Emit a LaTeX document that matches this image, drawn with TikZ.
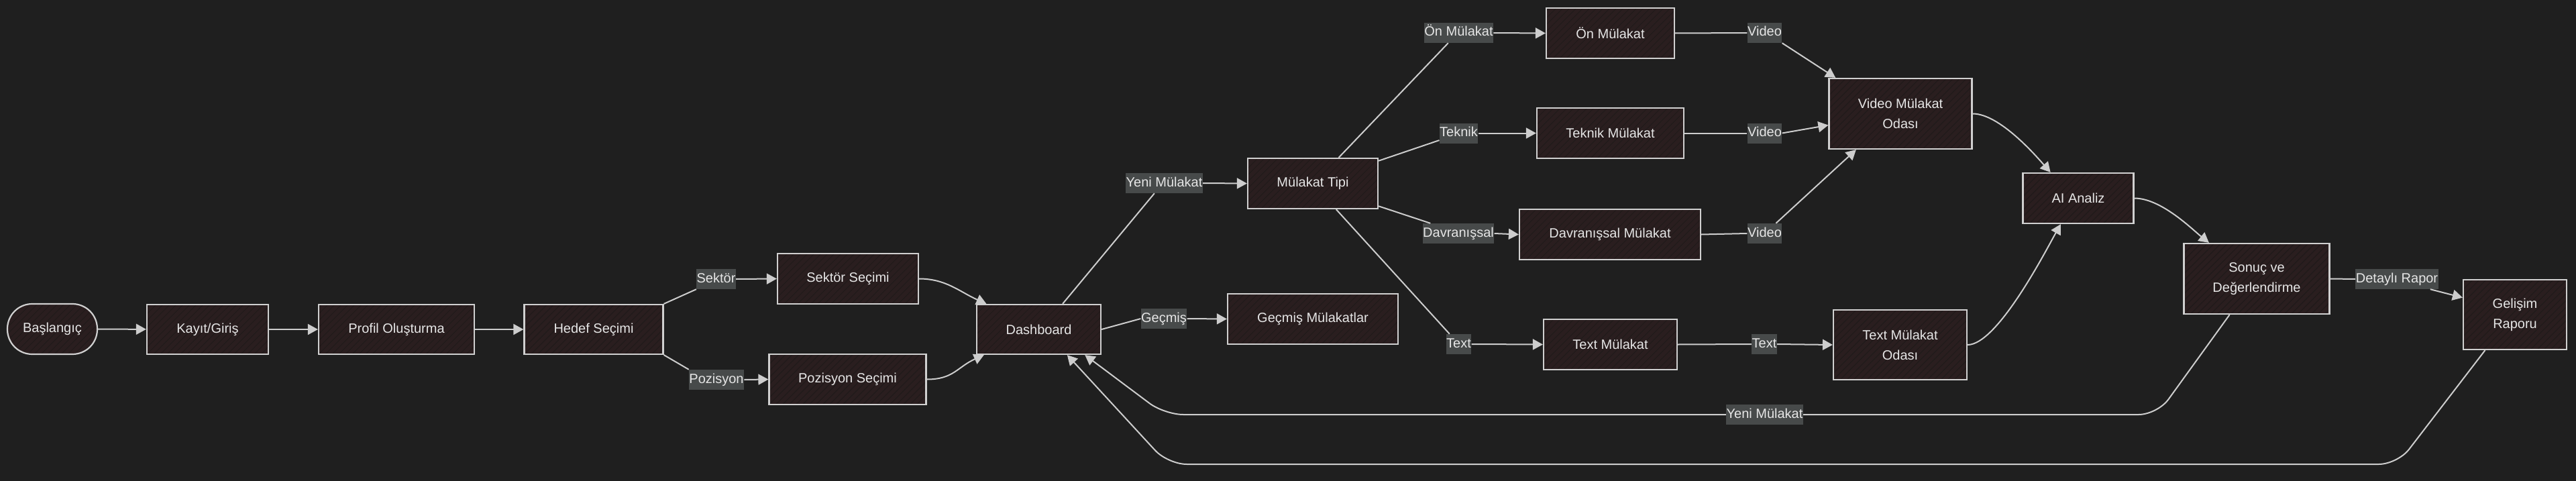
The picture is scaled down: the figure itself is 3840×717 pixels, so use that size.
\documentclass[tikz,border=0pt]{standalone}
\usepackage{fontspec}
\setmainfont{Liberation Sans}
\usetikzlibrary{arrows.meta,calc}
\definecolor{bgc}{RGB}{31,31,31}
\definecolor{boxfill}{RGB}{42,30,31}
\definecolor{hatchc}{RGB}{31,26,26}
\definecolor{bordc}{RGB}{208,208,208}
\definecolor{edgec}{RGB}{205,205,205}
\definecolor{lblc}{RGB}{71,74,74}
\definecolor{txtc}{RGB}{230,230,230}
\tikzset{
  hatchfill/.style={path picture={\foreach \i in {-12,...,28}{\draw[hatchc,line width=1pt] ([xshift=\i*10pt]path picture bounding box.south west) -- ++(300pt,300pt);}}},
  box/.style={draw=bordc, line width=2.2pt, fill=boxfill, hatchfill, text=txtc, font=\fontsize{20}{30}\selectfont, align=center, inner sep=0pt},
  lbl/.style={fill=lblc, text=txtc, font=\fontsize{20}{24}\selectfont, inner xsep=0.5pt, inner ysep=0pt, text height=15pt, text depth=5pt, minimum height=30pt},
  edge/.style={draw=edgec, line width=2pt},
  arr/.style={edge, -{Triangle[length=15pt,width=16pt]}},
}
\begin{document}
\begin{tikzpicture}[x=1pt,y=-1pt]
\fill[bgc] (0,0) rectangle (3840,717);
\useasboundingbox (0,0) rectangle (3840,717);
% boxes
\node[box, minimum width=134pt, minimum height=75pt, rounded corners=37pt] (start) at (78,490.5) {Başlangıç};
\node[box, minimum width=181pt, minimum height=74pt] (kayit) at (309.5,491) {Kayıt/Giriş};
\node[box, minimum width=232pt, minimum height=74pt] (profil) at (591,491) {Profil Oluşturma};
\node[box, minimum width=207pt, minimum height=74pt] (hedef) at (885,491) {Hedef Seçimi};
\node[box, minimum width=210pt, minimum height=75pt] (sek) at (1264,415.5) {Sektör Seçimi};
\node[box, minimum width=234pt, minimum height=75pt] (poz) at (1263.5,565.5) {Pozisyon Seçimi};
\node[box, minimum width=185pt, minimum height=74pt] (dash) at (1548.5,491) {Dashboard};
\node[box, minimum width=254pt, minimum height=75pt] (gec) at (1957,475.5) {Geçmiş Mülakatlar};
\node[box, minimum width=194pt, minimum height=75pt] (tipi) at (1957,273.5) {Mülakat Tipi};
\node[box, minimum width=191pt, minimum height=75pt] (on) at (2400.5,49.5) {Ön Mülakat};
\node[box, minimum width=219pt, minimum height=75pt] (tek) at (2400.5,198.5) {Teknik Mülakat};
\node[box, minimum width=270pt, minimum height=75pt] (dav) at (2400,349.5) {Davranışsal Mülakat};
\node[box, minimum width=199pt, minimum height=75pt] (text) at (2400.5,513.5) {Text Mülakat};
\node[box, minimum width=213pt, minimum height=105pt] (vmo) at (2833,169.5) {Video Mülakat\\Odası};
\node[box, minimum width=199pt, minimum height=104pt] (tmo) at (2832.5,514) {Text Mülakat\\Odası};
\node[box, minimum width=165pt, minimum height=75pt] (ai) at (3098,295.5) {AI Analiz};
\node[box, minimum width=217pt, minimum height=105pt] (son) at (3364,415.5) {Sonuç ve\\Değerlendirme};
\node[box, minimum width=154pt, minimum height=104pt] (gel) at (3749,469) {Gelişim\\Raporu};
% labels
\node[lbl] (lsek) at (1067.5,416) {Sektör};
\node[lbl] (lpoz) at (1068,566) {Pozisyon};
\node[lbl] (lgec) at (1735,475) {Geçmiş};
\node[lbl] (lyeni1) at (1735.5,273) {Yeni Mülakat};
\node[lbl] (lon) at (2174.5,49) {Ön Mülakat};
\node[lbl] (ltek) at (2174.5,198.5) {Teknik};
\node[lbl] (ldav) at (2174,348) {Davranışsal};
\node[lbl] (ltext1) at (2174.5,513) {Text};
\node[lbl] (lv1) at (2630.5,49) {Video};
\node[lbl] (lv2) at (2630.5,198.5) {Video};
\node[lbl] (lv3) at (2630.5,348) {Video};
\node[lbl] (lt2) at (2630,513) {Text};
\node[lbl] (lyeni2) at (2630.5,618) {Yeni Mülakat};
\node[lbl] (ldet) at (3573,416) {Detaylı Rapor};
% waypoints
\coordinate (w1) at (3216,618);
\coordinate (w2) at (1736,618);
\coordinate (w3) at (3574,692);
\coordinate (w4) at (1741,692);
% edges
\draw[arr] (start) -- (kayit);
\draw[arr] (kayit) -- (profil);
\draw[arr] (profil) -- (hedef);
\draw[edge] (hedef.north east) -- (lsek.south west);
\draw[arr] (lsek.east) -- (sek.west);
\draw[edge] (hedef.south east) -- (lpoz.north west);
\draw[arr] (lpoz.east) -- (poz.west);
\draw[arr] (sek.east) .. controls +(40,0) and +(-40,-18) .. (dash.154);
\draw[arr] (poz.east) .. controls +(40,0) and +(-40,18) .. (dash.205.5);
\draw[edge] (dash.east) -- (lgec.west);
\draw[arr] (lgec.east) -- (gec.west);
\draw[edge] (dash.47) -- (lyeni1.226);
\draw[arr] (lyeni1.east) -- (tipi.west);
\draw[edge] (tipi.45) -- (lon.224);
\draw[arr] (lon.east) -- (on.west);
\draw[edge] (tipi.19) -- (ltek.200);
\draw[arr] (ltek.east) -- (tek.west);
\draw[edge] (tipi.-19) -- (ldav.160);
\draw[arr] (ldav.east) -- (dav.west);
\draw[edge] (tipi.-48) -- (ltext1.132);
\draw[arr] (ltext1.east) -- (text.west);
\draw[edge] (on.east) -- (lv1.west);
\draw[arr] (lv1.south east) -- (vmo.151);
\draw[edge] (tek.east) -- (lv2.west);
\draw[arr] (lv2.east) -- (vmo.189);
\draw[edge] (dav.east) -- (lv3.west);
\draw[arr] (lv3.42) -- (vmo.219);
\draw[edge] (text.east) -- (lt2.west);
\draw[arr] (lt2.east) -- (tmo.west);
\draw[arr] (vmo.east) .. controls +(40,0) and +(-22,-25) .. (ai.137);
\draw[arr] (tmo.east) .. controls +(45,0) and +(-20,35) .. (ai.236);
\draw[arr] (ai.east) .. controls +(40,0) and +(-25,-20) .. (son.143);
\draw[edge] (son.east) -- (ldet.west);
\draw[arr] (ldet.-17) -- (gel.162);
\draw[edge, rounded corners=28pt] (son.233) -- (w1) -- (lyeni2.east);
\draw[arr, rounded corners=28pt] (lyeni2.west) -- (w2) -- (dash.-29.5);
\draw[arr, rounded corners=28pt] (gel.230) -- (w3) -- (w4) -- (dash.-42);
\end{tikzpicture}
\end{document}
